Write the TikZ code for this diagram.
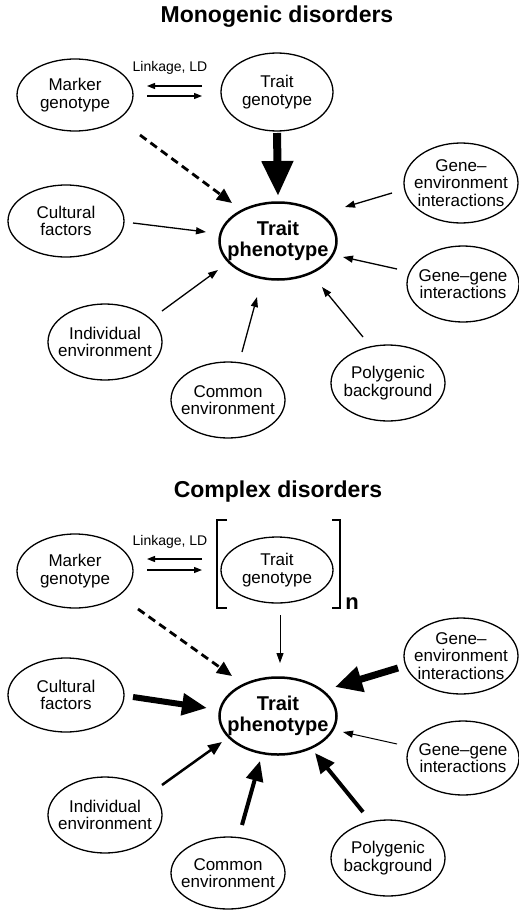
\documentclass[tikz,border=0pt]{standalone}
\usepackage{fontspec}
\setmainfont{Liberation Sans}
\usetikzlibrary{shapes.geometric,arrows.meta}
\begin{document}
\begin{tikzpicture}[x=1pt,y=-1pt,
    every node/.style={font=\fontsize{17}{17.5}\selectfont},
    oval/.style={draw,ellipse,line width=1.3pt,inner xsep=-15pt,inner ysep=-3pt,align=center,minimum width=114pt,minimum height=76pt},
    pheno/.style={oval,line width=2.5pt,minimum width=117pt,minimum height=77pt,font=\bfseries\fontsize{20}{21}\selectfont},
    heading/.style={font=\bfseries\fontsize{23}{25}\selectfont},
    linklabel/.style={font=\fontsize{14}{16}\selectfont},
    linkarr/.style={line width=1.3pt,-{Triangle[length=8pt,width=6pt]}},
    thinarr/.style={line width=1.3pt,-{Triangle[length=10pt,width=7pt]}},
    dasharr/.style={line width=2.8pt,dash pattern=on 8pt off 5pt,-{Triangle[length=15pt,width=13pt]}}]
  \useasboundingbox (0,0) rectangle (519,910);
  % monogenic disorders
  \node[heading] (title1) at (277,17) {Monogenic disorders};
  \node[oval,minimum width=116pt,minimum height=72pt] (mark1) at (75,95) {Marker\\genotype};
  \node[linklabel] (link1) at (170,68) {Linkage, LD};
  \node[oval,minimum width=112pt,minimum height=78pt] (tg1) at (277,92) {Trait\\genotype};
  \node[oval,minimum height=80pt] (ge1) at (461,183) {Gene–\\environment\\interactions};
  \node[oval,minimum width=116pt,minimum height=72pt] (cult1) at (66,221) {Cultural\\factors};
  \node[pheno] (ph1) at (278,241) {Trait\\phenotype};
  \node[oval,minimum width=112pt] (gg1) at (463,284) {Gene–gene\\interactions};
  \node[oval] (ind1) at (105,342) {Individual\\environment};
  \node[oval] (com1) at (228,400) {Common\\environment};
  \node[oval] (poly1) at (388,383) {Polygenic\\background};
  \draw[linkarr] ([shift={(-75,-6)}]tg1.center) -- ([shift={(72,-9)}]mark1.center);
  \draw[linkarr] ([shift={(72,1)}]mark1.center) -- ([shift={(-75,4)}]tg1.center);
  \draw[line width=8pt,-{Triangle[length=35pt,width=30pt]}] ([shift={(0,41)}]tg1.center) -- ([shift={(0,-45)}]ph1.center);
  \draw[dasharr] ([shift={(65,40)}]mark1.center) -- ([shift={(-46,-38)}]ph1.center);
  \draw[thinarr] ([shift={(-69,10)}]ge1.center) -- ([shift={(67,-34)}]ph1.center);
  \draw[thinarr] ([shift={(67,2)}]cult1.center) -- ([shift={(-72,-9)}]ph1.center);
  \draw[thinarr] ([shift={(-66,-15)}]gg1.center) -- ([shift={(65,16)}]ph1.center);
  \draw[thinarr] ([shift={(57,-31)}]ind1.center) -- ([shift={(-60,29)}]ph1.center);
  \draw[thinarr] ([shift={(14,-48)}]com1.center) -- ([shift={(-21,56)}]ph1.center);
  \draw[thinarr] ([shift={(-25,-46)}]poly1.center) -- ([shift={(44,46)}]ph1.center);
  % complex disorders
  \node[heading] (title2) at (278,492) {Complex disorders};
  \node[oval,minimum width=116pt,minimum height=74pt] (mark2) at (75,571) {Marker\\genotype};
  \node[linklabel] (link2) at (170,542) {Linkage, LD};
  \node[oval,minimum width=112pt,minimum height=66pt] (tg2) at (277,570) {Trait\\genotype};
  \draw[line width=1.3pt] ([shift={(-50,-50)}]tg2.center) -- ++(-10,0) -- ++(0,88) -- ++(10,0);
  \draw[line width=1.3pt] ([shift={(55,-50)}]tg2.center) -- ++(8,0) -- ++(0,88) -- ++(-8,0);
  \node[font=\bfseries\fontsize{22}{22}\selectfont] (n2) at (352,604) {n};
  \node[oval] (ge2) at (461,656) {Gene–\\environment\\interactions};
  \node[oval,minimum width=116pt,minimum height=74pt] (cult2) at (66,695) {Cultural\\factors};
  \node[pheno] (ph2) at (278,716) {Trait\\phenotype};
  \node[oval,minimum width=112pt,minimum height=74pt] (gg2) at (463,758) {Gene–gene\\interactions};
  \node[oval] (ind2) at (105,815) {Individual\\environment};
  \node[oval,minimum height=72pt] (com2) at (228,873) {Common\\environment};
  \node[oval] (poly2) at (388,858) {Polygenic\\background};
  \draw[linkarr] ([shift={(-75,-11)}]tg2.center) -- ([shift={(72,-12)}]mark2.center);
  \draw[linkarr] ([shift={(72,-1)}]mark2.center) -- ([shift={(-75,0)}]tg2.center);
  \draw[line width=1pt,-{Triangle[length=10pt,width=7pt]}] ([shift={(3,45)}]tg2.center) -- ([shift={(2,-53)}]ph2.center);
  \draw[dasharr] ([shift={(63,38)}]mark2.center) -- ([shift={(-46,-40)}]ph2.center);
  \draw[line width=7pt,-{Triangle[length=27pt,width=25pt]}] ([shift={(-63,12)}]ge2.center) -- ([shift={(57,-29)}]ph2.center);
  \draw[line width=6pt,-{Triangle[length=25pt,width=21pt]}] ([shift={(67,2)}]cult2.center) -- ([shift={(-71,-8)}]ph2.center);
  \draw[line width=1pt,-{Triangle[length=10pt,width=7pt]}] ([shift={(-66,-14)}]gg2.center) -- ([shift={(65,16)}]ph2.center);
  \draw[line width=2.5pt,-{Triangle[length=14pt,width=11pt]}] ([shift={(57,-30)}]ind2.center) -- ([shift={(-56,26)}]ph2.center);
  \draw[line width=4pt,-{Triangle[length=20pt,width=17pt]}] ([shift={(14,-48)}]com2.center) -- ([shift={(-18,45)}]ph2.center);
  \draw[line width=4pt,-{Triangle[length=20pt,width=17pt]}] ([shift={(-25,-46)}]poly2.center) -- ([shift={(37,37)}]ph2.center);
\end{tikzpicture}
\end{document}
